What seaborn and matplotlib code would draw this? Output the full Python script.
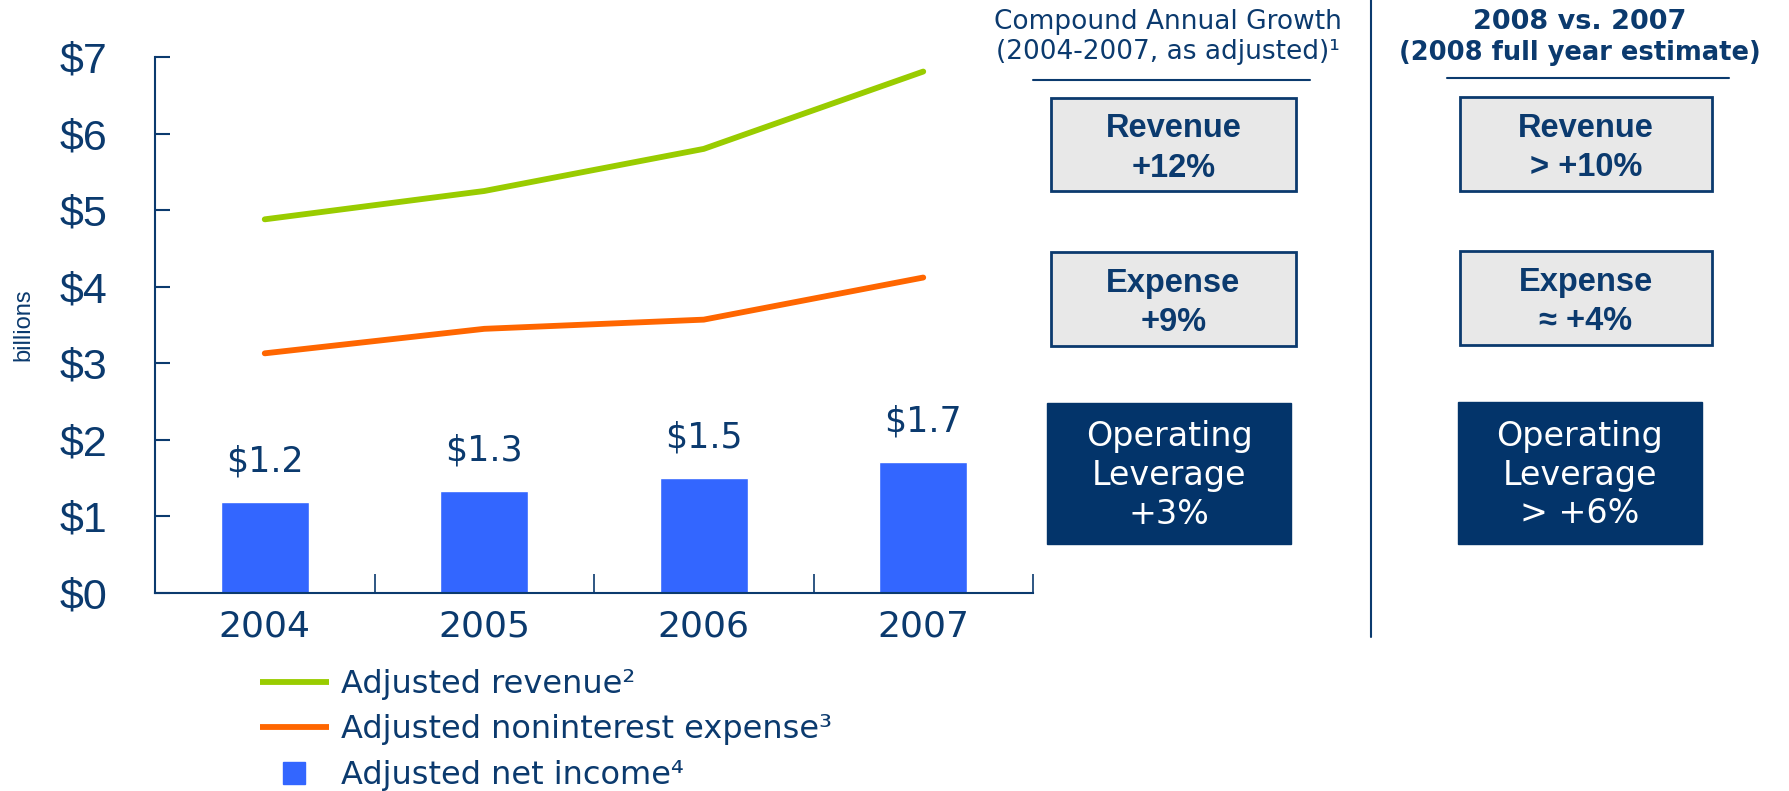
import numpy as np
import pandas as pd
import matplotlib
matplotlib.use("Agg")
import matplotlib.pyplot as plt
import matplotlib.patches as mpatches
from matplotlib.lines import Line2D
import seaborn as sns

# ---------------- Data ----------------
years = ["2004", "2005", "2006", "2007"]
revenue = [4.88, 5.25, 5.80, 6.81]
expense = [3.13, 3.45, 3.57, 4.12]
net_income = [1.19, 1.33, 1.50, 1.71]
y_ticks = [0, 1, 2, 3, 4, 5, 6, 7]
legend_labels = ["Adjusted revenue²", "Adjusted noninterest expense³", "Adjusted net income⁴"]

# ---------------- Colours ----------------
NAVY = "#0B3A6E"
BOX_NAVY = "#03346A"
GREEN = "#99CC00"
ORANGE = "#FF6600"
BLUE = "#3366FF"
GREY = "#E8E8E8"

sns.set_theme(style="white")
plt.rcParams['font.family'] = ['DejaVu Sans']

W, H = 1789, 791
fig = plt.figure(figsize=(W / 100, H / 100), dpi=100)
ax = fig.add_axes([155 / W, 1 - 593 / H, (1033 - 155) / W, (593 - 57) / H])

df = pd.DataFrame({"year": years, "revenue": revenue,
                   "expense": expense, "net_income": net_income})
df["pos"] = np.arange(len(df))

# bars + lines
sns.barplot(data=df, x="year", y="net_income", color=BLUE, saturation=1,
            width=0.4, ax=ax, zorder=2)
sns.lineplot(data=df, x="pos", y="revenue", color=GREEN, lw=4.2,
             solid_capstyle="round", ax=ax, zorder=3)
sns.lineplot(data=df, x="pos", y="expense", color=ORANGE, lw=4.2,
             solid_capstyle="round", ax=ax, zorder=3)

ax.bar_label(ax.containers[0], fmt="${:.1f}", padding=17, fontsize=25, color=NAVY)

# axes styling
ax.set_xlim(-0.5, 3.5)
ax.set_ylim(0, 7)
ax.set_xlabel("")
ax.set_ylabel("")
ax.set_yticks(y_ticks)
ax.set_yticklabels([f"${t}" for t in y_ticks], fontfamily="Liberation Sans")
ax.set_xticks(range(len(years)))
ax.set_xticklabels(years)
ax.set_xticks([0.5, 1.5, 2.5, 3.5], minor=True)
ax.tick_params(axis="y", direction="in", length=11, width=1.5, color=NAVY,
               labelsize=31, labelcolor=NAVY, pad=34, left=True)
ax.tick_params(axis="x", which="major", length=0, labelsize=26,
               labelcolor=NAVY, pad=12)
ax.tick_params(axis="x", which="minor", direction="in", length=14, width=1.2,
               color=NAVY, bottom=True)
for s in ["top", "right"]:
    ax.spines[s].set_visible(False)
for s in ["left", "bottom"]:
    ax.spines[s].set_color(NAVY)
    ax.spines[s].set_linewidth(1.5)
ax.grid(False)

fig.text(23 / W, 1 - 325 / H, "billions", rotation=90, ha="center", va="center",
         fontsize=17, color=NAVY, fontfamily="Liberation Sans")

# legend
handles = [Line2D([], [], color=GREEN, lw=4.2, solid_capstyle="butt"),
           Line2D([], [], color=ORANGE, lw=4.2, solid_capstyle="butt"),
           Line2D([], [], color=BLUE, marker="s", markersize=16, linestyle="none")]
leg = fig.legend(handles, legend_labels, loc="upper left",
                 bbox_to_anchor=(260 / W, 1 - 669 / H), frameon=False,
                 fontsize=23, handlelength=2.15, handletextpad=0.4,
                 labelspacing=0.45, borderpad=0, borderaxespad=0)
for t in leg.get_texts():
    t.set_color(NAVY)

# ---------------- Right panel (pixel overlay) ----------------
ov = fig.add_axes([0, 0, 1, 1])
ov.set_xlim(0, W)
ov.set_ylim(H, 0)
ov.axis("off")
ov.patch.set_visible(False)

ov.text(1168, 22, "Compound Annual Growth", ha="center", va="center",
        fontsize=19, color=NAVY)
ov.text(1168, 52, "(2004-2007, as adjusted)¹", ha="center", va="center",
        fontsize=19, color=NAVY)
ov.plot([1033, 1310], [80, 80], color=NAVY, lw=1.5)
ov.plot([1371, 1371], [0, 637], color=NAVY, lw=1.5)
ov.text(1580, 22, "2008 vs. 2007", ha="center", va="center",
        fontsize=19.5, fontweight="bold", color=NAVY)
ov.text(1580, 53, "(2008 full year estimate)", ha="center", va="center",
        fontsize=18.5, fontweight="bold", color=NAVY)
ov.plot([1447, 1729], [78, 78], color=NAVY, lw=1.5)

narrow = ["Liberation Sans Narrow", "Liberation Sans"]
grey_boxes = [
    (1051, 98, 245, 93, "Revenue\n+12%"),
    (1460, 97, 252, 94, "Revenue\n> +10%"),
    (1051, 252, 245, 94, "Expense\n+9%"),
    (1460, 251, 252, 94, "Expense\n≈ +4%"),
]
for x0, y0, w, h, txt in grey_boxes:
    ov.add_patch(mpatches.Rectangle((x0, y0), w, h, facecolor=GREY,
                                    edgecolor=NAVY, lw=2))
    ov.text(x0 + w / 2, y0 + h / 2 + 4, txt, ha="center", va="center",
            fontsize=23.5, fontweight="bold", color=NAVY, family=narrow,
            linespacing=1.35)

dark_boxes = [
    (1047, 403, 244, 141, "Operating\nLeverage\n+3%"),
    (1458, 402, 244, 142, "Operating\nLeverage\n> +6%"),
]
for x0, y0, w, h, txt in dark_boxes:
    ov.add_patch(mpatches.Rectangle((x0, y0), w, h, facecolor=BOX_NAVY,
                                    edgecolor=BOX_NAVY, lw=1))
    ov.text(x0 + w / 2, y0 + h / 2 + 2, txt, ha="center", va="center",
            fontsize=24, color="white", linespacing=1.22)

plt.savefig("out.png", dpi=100)
